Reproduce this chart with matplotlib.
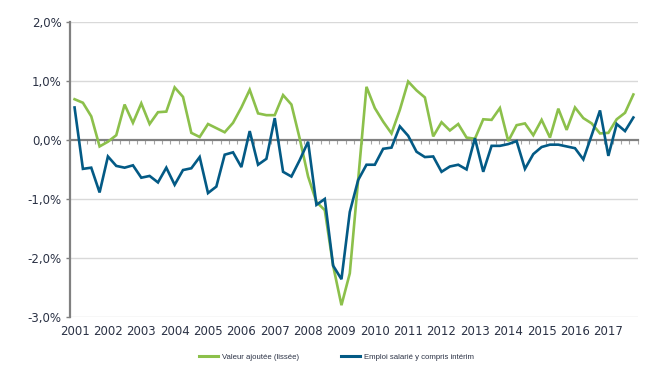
import matplotlib
matplotlib.use("Agg")
import matplotlib.pyplot as plt
import numpy as np
from matplotlib.ticker import FuncFormatter, FixedLocator

years = [str(y) for y in range(2001, 2018)]
quarters = [f"{y}T{q}" for y in range(2001, 2018) for q in range(1, 5)]

valeur_ajoutee = [
    0.69, 0.63, 0.40, -0.11, -0.03, 0.08, 0.60, 0.29, 0.62, 0.27, 0.47, 0.48,
    0.89, 0.73, 0.12, 0.05, 0.27, 0.20, 0.13, 0.29, 0.55, 0.85, 0.45, 0.42,
    0.42, 0.76, 0.60, 0.02, -0.62, -1.05, -1.19, -2.13, -2.80, -2.26, -0.68, 0.90,
    0.54, 0.31, 0.11, 0.51, 0.99, 0.84, 0.72, 0.06, 0.30, 0.16, 0.27, 0.04,
    0.02, 0.35, 0.34, 0.54, -0.02, 0.25, 0.28, 0.08, 0.34, 0.04, 0.53, 0.17,
    0.55, 0.37, 0.28, 0.11, 0.12, 0.35, 0.46, 0.77,
]
emploi = [
    0.55, -0.49, -0.47, -0.89, -0.28, -0.44, -0.47, -0.43, -0.64, -0.61, -0.72, -0.47,
    -0.76, -0.51, -0.48, -0.29, -0.90, -0.79, -0.25, -0.21, -0.46, 0.15, -0.42, -0.32,
    0.37, -0.54, -0.62, -0.34, -0.03, -1.10, -1.00, -2.13, -2.36, -1.22, -0.68, -0.42,
    -0.42, -0.15, -0.13, 0.23, 0.07, -0.20, -0.29, -0.28, -0.54, -0.45, -0.42, -0.50,
    0.03, -0.54, -0.10, -0.10, -0.07, -0.02, -0.49, -0.24, -0.12, -0.08, -0.08, -0.11,
    -0.14, -0.33, 0.08, 0.50, -0.27, 0.27, 0.15, 0.38,
]
series_names = ["Valeur ajoutée (lissée)", "Emploi salarié y compris intérim"]
colors = ["#8CC04B", "#035A85"]

GRID = "#D9D9D9"
AXIS = "#808080"
TXT = "#2B3245"

fig = plt.figure(figsize=(6.69, 3.81), dpi=100)
ax = fig.add_axes([0.1046, 0.168, 0.849, 0.7745])

x = np.arange(len(quarters))
ax.plot(x, valeur_ajoutee, color=colors[0], lw=1.9, label=series_names[0], zorder=4,
        solid_joinstyle="miter")
ax.plot(x, emploi, color=colors[1], lw=1.9, label=series_names[1], zorder=5,
        solid_joinstyle="miter")

ax.set_xlim(-0.55, len(quarters) - 0.45)
ax.set_ylim(-3.0, 2.0)

# y axis
ax.set_yticks(np.arange(-3, 2.01, 1.0))
ax.yaxis.set_major_formatter(FuncFormatter(lambda v, p: f"{v:.1f}%".replace(".", ",")))
ax.tick_params(axis="y", length=3, width=1, color=AXIS, labelsize=8.5, labelcolor=TXT, pad=3)
for v in np.arange(-3, 2.01, 1.0):
    if abs(v) > 1e-9:
        ax.axhline(v, color=GRID, lw=1.0, zorder=1)

for s in ["top", "right"]:
    ax.spines[s].set_visible(False)
ax.spines["left"].set_color(AXIS)
ax.spines["left"].set_linewidth(1.6)

# zero axis with category boundary ticks
ax.spines["bottom"].set_position(("data", 0))
ax.spines["bottom"].set_color(AXIS)
ax.spines["bottom"].set_linewidth(1.6)
ax.spines["bottom"].set_zorder(3)
ax.xaxis.set_major_locator(FixedLocator(np.arange(-0.5, len(quarters), 1.0)))
ax.tick_params(axis="x", length=3, width=0.8, color="#A6A6A6", labelbottom=False, direction="out")

# year labels at bottom
sec = ax.secondary_xaxis(0.0)
sec.set_xticks(np.arange(0, len(quarters), 4))
sec.set_xticklabels(years)
sec.tick_params(length=0, labelsize=8.5, labelcolor=TXT, pad=6)
sec.spines["bottom"].set_visible(False)

leg = fig.legend(loc="center", bbox_to_anchor=(0.503, 0.063), ncol=2, frameon=False,
                 prop={"family": ["Liberation Sans", "DejaVu Sans"], "size": 5.6},
                 handlelength=2.4, handletextpad=0.5, columnspacing=5.5,
                 labelcolor=TXT)
for line in leg.get_lines():
    line.set_linewidth(2.2)

fig.savefig("out.png", dpi=100)
